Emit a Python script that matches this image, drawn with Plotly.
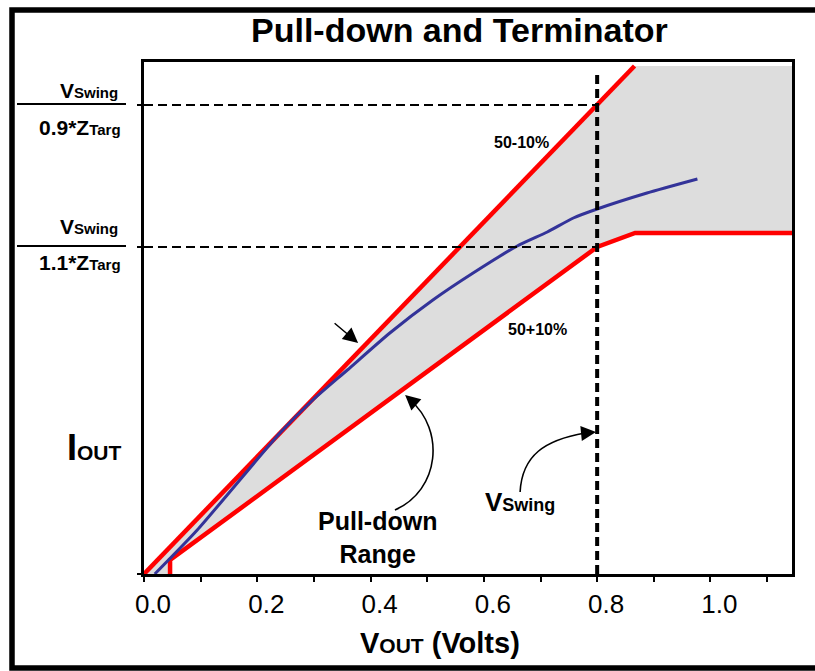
import plotly.graph_objects as go

# ---- data -------------------------------------------------------------
# 50-10% boundary (steepest allowed pull-down), then capped at the top
v_upper = [0.0, 0.866]
i_upper = [0.0, 25.4]

# 50+10% boundary (shallowest allowed pull-down), flattening past V_swing
v_lower = [0.046, 0.046, 0.80, 0.867, 1.144]
i_lower = [0.0, 0.7, 16.35, 17.05, 17.05]

# measured pull-down I/V curve
v_meas = [0.019, 0.094, 0.240, 0.298, 0.359, 0.434, 0.510, 0.581,
          0.659, 0.712, 0.758, 0.800, 0.888, 0.977]
i_meas = [0.0, 2.2, 7.05, 8.7, 10.2, 12.05, 13.7, 15.05,
          16.4, 17.1, 17.8, 18.25, 19.05, 19.75]

v_swing = 0.8
i_hi = 23.45   # Vswing / (0.9 * Ztarg)
i_lo = 16.35   # Vswing / (1.1 * Ztarg)
v_top = 25.1   # top of the V_swing marker line

x_ticks = [0.0, 0.1, 0.2, 0.3, 0.4, 0.5, 0.6, 0.7, 0.8, 0.9, 1.0, 1.1]
x_tick_text = ["0.0", "", "0.2", "", "0.4", "", "0.6", "", "0.8", "", "1.0", ""]

X_MAX = 1.144
Y_MAX = 25.6

FONT = "Liberation Sans, Arial, sans-serif"
RED = "#FF0000"
BLUE = "#333399"

fig = go.Figure()

# shaded allowed region between the two boundaries
poly_x = v_upper + [X_MAX] + v_lower[::-1]
poly_y = i_upper + [i_upper[-1]] + i_lower[::-1]
fig.add_trace(go.Scatter(x=poly_x, y=poly_y, fill="toself", fillcolor="#DDDDDD",
                         line=dict(width=0), mode="lines", hoverinfo="skip"))

fig.add_trace(go.Scatter(x=v_upper, y=i_upper, mode="lines",
                         line=dict(color=RED, width=4.5)))
fig.add_trace(go.Scatter(x=v_lower, y=i_lower, mode="lines",
                         line=dict(color=RED, width=4.5)))
fig.add_trace(go.Scatter(x=v_meas, y=i_meas, mode="lines",
                         line=dict(color=BLUE, width=3, shape="spline", smoothing=0.6)))

# reference levels
for lvl in (i_hi, i_lo):
    fig.add_trace(go.Scatter(x=[0.0, v_swing], y=[lvl, lvl], mode="lines",
                             line=dict(color="black", width=2, dash="9px,5px")))
fig.add_trace(go.Scatter(x=[v_swing, v_swing], y=[0.0, v_top], mode="lines",
                         line=dict(color="black", width=4, dash="9px,5px")))

fig.update_layout(
    width=815, height=671, autosize=False,
    margin=dict(l=144, r=23, t=62, b=97, pad=0),
    paper_bgcolor="white", plot_bgcolor="white",
    showlegend=False,
    font=dict(family=FONT, color="black"),
    xaxis=dict(range=[0, X_MAX], showgrid=False, zeroline=False,
               showline=True, linecolor="black", linewidth=2.5, mirror=True,
               tickmode="array", tickvals=x_ticks, ticktext=x_tick_text,
               ticks="outside", ticklen=5, tickwidth=2, tickcolor="black",
               tickfont=dict(size=26, family=FONT, color="black"),
               ticklabelshift=9),
    yaxis=dict(range=[0, Y_MAX], showgrid=False, zeroline=False,
               showline=True, linecolor="black", linewidth=2.5, mirror=True,
               tickmode="array", tickvals=[0.0, i_lo, i_hi],
               ticks="outside", ticklen=4, tickwidth=2, tickcolor="black",
               showticklabels=False),
)

def px(x):
    return (x - 144) / 648.0

def py(y):
    return (574 - y) / 512.0

def label(text, x, y, size, xanchor="center", paper=True):
    d = dict(text=text, x=x, y=y, showarrow=False, xanchor=xanchor,
             yanchor="middle", font=dict(size=size))
    if paper:
        d.update(xref="paper", yref="paper")
    return d

ann = []
ann.append(label("<b>Pull-down and Terminator</b>", px(459), py(30), 34))
ann.append(label("<b>V<span style='font-size:21px'>OUT</span> (Volts)</b>",
                 px(440), py(643), 29))
ann.append(label("<b>I<span style='font-size:21px'>OUT</span></b>",
                 px(124), py(447), 36, xanchor="right"))
# fraction labels for the two current levels
for top_y, bot_y, coef in ((90, 127, "0.9"), (226, 262, "1.1")):
    ann.append(label("<b>V<span style='font-size:15px'>Swing</span></b>",
                     px(120), py(top_y), 21, xanchor="right"))
    ann.append(label(f"<b>{coef}*Z<span style='font-size:15px'>Targ</span></b>",
                     px(123), py(bot_y), 21, xanchor="right"))

# in-plot labels
ann.append(label("<b>50-10%</b>", 0.666, 21.6, 16, paper=False))
ann.append(label("<b>50+10%</b>", 0.694, 12.25, 16, paper=False))
ann.append(label("<b>Pull-down<br>Range</b>", 0.4115, 1.85, 25, paper=False))
ann.append(label("<b>V<span style='font-size:18px'>Swing</span></b>",
                 0.664, 3.6, 26, paper=False))

# straight pointer to the 50-10% line
ann.append(dict(text="", x=0.378, y=11.55, ax=-25, ay=-21, showarrow=True,
                arrowhead=2, arrowsize=2, arrowwidth=1.5, arrowcolor="black"))
# heads of the curved pointers
ann.append(dict(text="", x=0.461, y=8.95, ax=9, ay=8, showarrow=True,
                arrowhead=2, arrowsize=2, arrowwidth=1.5, arrowcolor="black"))
ann.append(dict(text="", x=0.798, y=7.1, ax=-10, ay=1, showarrow=True,
                arrowhead=2, arrowsize=2, arrowwidth=1.5, arrowcolor="black"))
fig.update_layout(annotations=ann)

shapes = []
# curved pointer bodies
shapes.append(dict(type="path", xref="x", yref="y",
                   path="M 0.443 3.2 C 0.5227 4.2, 0.5316 7.2, 0.4698 8.7",
                   line=dict(color="black", width=1.6)))
shapes.append(dict(type="path", xref="x", yref="y",
                   path="M 0.664 4.1 C 0.6675 5.95, 0.708 6.7, 0.7788 7.05",
                   line=dict(color="black", width=1.6)))
# fraction bars
for yb in (104, 246):
    shapes.append(dict(type="line", xref="paper", yref="paper",
                       x0=px(17), x1=px(126), y0=py(yb), y1=py(yb),
                       line=dict(color="black", width=2)))
# outer frame
shapes.append(dict(type="rect", xref="paper", yref="paper",
                   x0=px(12), x1=px(820), y0=py(668), y1=py(10),
                   line=dict(color="black", width=5.5)))
fig.update_layout(shapes=shapes)

fig.write_html("out.html")
